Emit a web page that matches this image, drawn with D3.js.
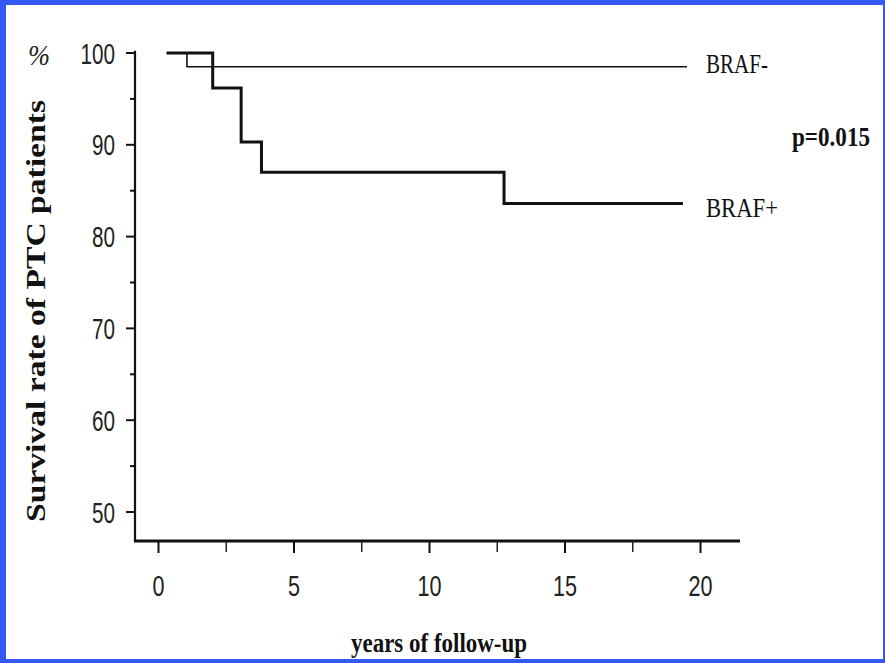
<!DOCTYPE html>
<html><head><meta charset="utf-8">
<script src="https://cdn.jsdelivr.net/npm/d3@7"></script>
<style>html,body{margin:0;padding:0;background:#fff;}svg{display:block;}</style>
</head><body>
<script>
// ---- data ----
const yTicks = [50, 60, 70, 80, 90, 100];
const yMinorTicks = [55, 65, 75, 85, 95];
const xTicks = [0, 5, 10, 15, 20];
const xMinorTicks = [2.5, 7.5, 12.5, 17.5];
const brafNegTime = [0.3, 1.05, 19.5];
const brafNegSurv = [100, 98.5, 98.5];
const brafPosTime = [0.3, 2.0, 3.05, 3.8, 12.75, 19.35];
const brafPosSurv = [100, 96.2, 90.3, 87.0, 83.6, 83.6];
const seriesLabels = ["BRAF-", "BRAF+"];
const pText = "p=0.015";
const xTitle = "years of follow-up";
const yTitle = "Survival rate of PTC patients";

const W = 885, H = 663;
const svg = d3.select("body").append("svg").attr("width", W).attr("height", H);
svg.append("rect").attr("width", W).attr("height", H).attr("fill", "#fff");

const x = d3.scaleLinear().domain([0, 20]).range([158.5, 700.5]);
const y = d3.scaleLinear().domain([50, 100]).range([512, 53]);
const axisX0 = 135, axisY0 = 541;
const xEnd = 740;

// axes lines
svg.append("line").attr("x1", axisX0).attr("x2", axisX0).attr("y1", y(100.25)).attr("y2", axisY0 + 1)
  .attr("stroke", "#111").attr("stroke-width", 2.2);
svg.append("line").attr("x1", axisX0 - 1).attr("x2", xEnd).attr("y1", axisY0).attr("y2", axisY0)
  .attr("stroke", "#111").attr("stroke-width", 2.8);

// y ticks
const gy = svg.append("g");
gy.selectAll("line.maj").data(yTicks).join("line").attr("class", "maj")
  .attr("x1", axisX0 - 9).attr("x2", axisX0).attr("y1", d => y(d)).attr("y2", d => y(d))
  .attr("stroke", "#111").attr("stroke-width", 2);
gy.selectAll("line.min").data(yMinorTicks).join("line").attr("class", "min")
  .attr("x1", axisX0 - 5).attr("x2", axisX0).attr("y1", d => y(d)).attr("y2", d => y(d))
  .attr("stroke", "#111").attr("stroke-width", 2);
gy.selectAll("text").data(yTicks).join("text")
  .attr("x", 115).attr("y", d => y(d) + 10.5)
  .attr("text-anchor", "end")
  .attr("font-family", "Liberation Sans, Arial, sans-serif").attr("font-size", 29)
  .attr("fill", "#222")
  .attr("textLength", d => String(d).length * 11.5).attr("lengthAdjust", "spacingAndGlyphs")
  .text(d => d);

// x ticks
const gx = svg.append("g");
gx.selectAll("line.maj").data(xTicks).join("line").attr("class", "maj")
  .attr("x1", d => x(d)).attr("x2", d => x(d)).attr("y1", axisY0).attr("y2", axisY0 + 12)
  .attr("stroke", "#111").attr("stroke-width", 2);
gx.selectAll("line.min").data(xMinorTicks).join("line").attr("class", "min")
  .attr("x1", d => x(d)).attr("x2", d => x(d)).attr("y1", axisY0).attr("y2", axisY0 + 11)
  .attr("stroke", "#222").attr("stroke-width", 1.5);
gx.selectAll("text").data(xTicks).join("text")
  .attr("x", d => x(d)).attr("y", 596)
  .attr("text-anchor", "middle")
  .attr("font-family", "Liberation Sans, Arial, sans-serif").attr("font-size", 29)
  .attr("fill", "#222")
  .attr("textLength", d => String(d).length * 12).attr("lengthAdjust", "spacingAndGlyphs")
  .text(d => d);

// curves
const line = d3.line().x(d => x(d[0])).y(d => y(d[1])).curve(d3.curveStepAfter);
const negPts = brafNegTime.map((t, i) => [t, brafNegSurv[i]]);
const posPts = brafPosTime.map((t, i) => [t, brafPosSurv[i]]);
svg.append("path").attr("d", line(negPts)).attr("fill", "none").attr("stroke", "#111").attr("stroke-width", 1.6);
svg.append("path").attr("d", line(posPts)).attr("fill", "none").attr("stroke", "#111").attr("stroke-width", 3);

// series labels
const serif = "Liberation Serif, Times New Roman, serif";
svg.append("text").attr("x", 706).attr("y", 73).attr("font-family", serif).attr("font-size", 27)
  .attr("fill", "#111").attr("textLength", 62).attr("lengthAdjust", "spacingAndGlyphs").text(seriesLabels[0]);
svg.append("text").attr("x", 706).attr("y", 217).attr("font-family", serif).attr("font-size", 27)
  .attr("fill", "#111").attr("textLength", 72).attr("lengthAdjust", "spacingAndGlyphs").text(seriesLabels[1]);
svg.append("text").attr("x", 792).attr("y", 146).attr("font-family", serif).attr("font-size", 27)
  .attr("font-weight", "bold").attr("fill", "#111").attr("textLength", 78).attr("lengthAdjust", "spacingAndGlyphs").text(pText);

// axis titles
svg.append("text").attr("x", 439).attr("y", 652).attr("text-anchor", "middle")
  .attr("font-family", serif).attr("font-size", 27).attr("font-weight", "bold").attr("fill", "#111")
  .attr("textLength", 176).attr("lengthAdjust", "spacingAndGlyphs").text(xTitle);
svg.append("text").attr("transform", "translate(45,311) scale(0.82,1) rotate(-90)")
  .attr("text-anchor", "middle")
  .attr("font-family", serif).attr("font-size", 33).attr("font-weight", "bold").attr("fill", "#111")
  .attr("textLength", 422).attr("lengthAdjust", "spacingAndGlyphs").text(yTitle);
svg.append("text").attr("x", 39).attr("y", 65).attr("text-anchor", "middle")
  .attr("font-family", serif).attr("font-size", 29).attr("font-style", "italic").attr("fill", "#222")
  .attr("textLength", 22).attr("lengthAdjust", "spacingAndGlyphs").text("%");

// frame border
const blue = "#3558f2";
svg.append("rect").attr("x", 0).attr("y", 0).attr("width", W).attr("height", 5).attr("fill", blue);
svg.append("rect").attr("x", 0).attr("y", 0).attr("width", 6).attr("height", H).attr("fill", blue);
svg.append("rect").attr("x", W - 2).attr("y", 0).attr("width", 2).attr("height", H).attr("fill", blue);
svg.append("rect").attr("x", 0).attr("y", H - 4).attr("width", W).attr("height", 4).attr("fill", blue);
</script>
</body></html>
